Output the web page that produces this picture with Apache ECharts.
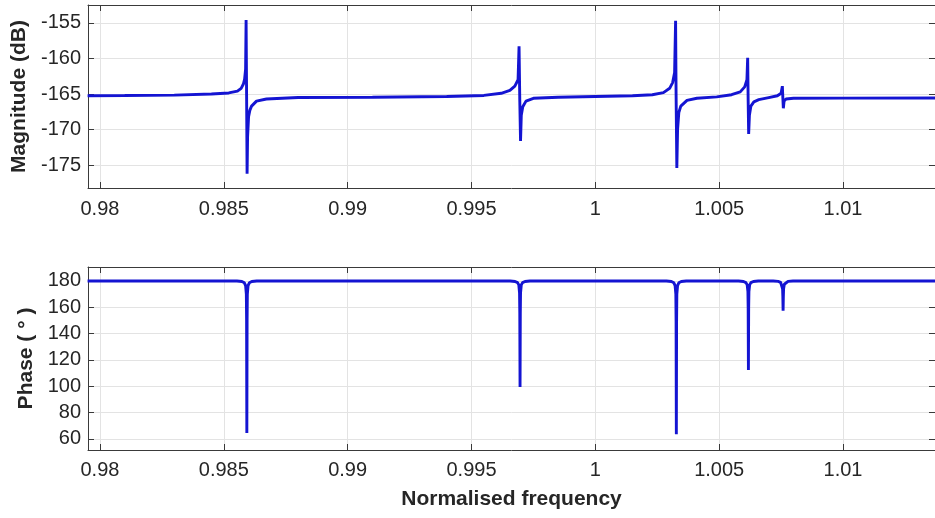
<!DOCTYPE html>
<html>
<head>
<meta charset="utf-8">
<script src="https://cdn.jsdelivr.net/npm/echarts@6/dist/echarts.min.js"></script>
<style>
html,body{margin:0;padding:0;background:#fff;}
#chart{width:935px;height:518px;}
</style>
</head>
<body>
<div id="chart"></div>
<script>
// ---- data ----
var freqTicks = [0.98, 0.985, 0.99, 0.995, 1, 1.005, 1.01];
var freqTickLabels = ['0.98', '0.985', '0.99', '0.995', '1', '1.005', '1.01'];
var magTicks = [-175, -170, -165, -160, -155];
var phaseTicks = [60, 80, 100, 120, 140, 160, 180];

var magnitude = [
  [0.97950, -165.25], [0.98100, -165.22], [0.98300, -165.15], [0.98450, -165.0],
  [0.98520, -164.85], [0.98555, -164.6], [0.98570, -164.2], [0.98579, -163.6],
  [0.98584, -162.9], [0.98588, -161.5], [0.98590, -154.6], [0.98592, -165.0],
  [0.98594, -176.2], [0.98596, -171.0], [0.98600, -168.2], [0.98605, -167.3],
  [0.98612, -166.7], [0.98632, -166.0], [0.98672, -165.7], [0.98800, -165.5],
  [0.99100, -165.45], [0.99400, -165.35], [0.99550, -165.2], [0.99620, -164.9],
  [0.99655, -164.5], [0.99675, -163.9], [0.99688, -163.0], [0.99692, -158.3],
  [0.99695, -166.0], [0.99698, -171.6], [0.99701, -168.0], [0.99707, -166.8],
  [0.99720, -166.0], [0.99750, -165.6], [0.99850, -165.45], [1.00000, -165.35],
  [1.00150, -165.25], [1.00230, -165.1], [1.00275, -164.8], [1.00300, -164.2],
  [1.00312, -163.4], [1.00320, -162.0], [1.00324, -154.7], [1.00326, -165.0],
  [1.00329, -175.4], [1.00332, -170.0], [1.00337, -167.6], [1.00345, -166.7],
  [1.00370, -165.9], [1.00410, -165.6], [1.00490, -165.4], [1.00550, -165.1],
  [1.00585, -164.7], [1.00603, -164.0], [1.00612, -163.0], [1.00615, -159.9],
  [1.00617, -166.0], [1.00619, -170.6], [1.00622, -168.0], [1.00628, -166.7],
  [1.00640, -166.1], [1.00660, -165.8], [1.00700, -165.5], [1.00735, -165.25],
  [1.00750, -164.9], [1.00755, -163.9], [1.00757, -165.5], [1.00759, -167.0],
  [1.00762, -166.0], [1.00770, -165.7], [1.00800, -165.6], [1.01000, -165.58],
  [1.01380, -165.55]
];

var phase = [
  [0.97950, 180],
  [0.98553, 180], [0.98573, 179.6], [0.98583, 178.6], [0.98588, 176.5], [0.98591, 170],
  [0.98592, 150], [0.98593, 64.5], [0.98594, 150], [0.98595, 170], [0.98598, 176.5],
  [0.98603, 178.6], [0.98613, 179.6], [0.98633, 180],
  [0.99656, 180], [0.99676, 179.6], [0.99686, 178.7], [0.99691, 177], [0.99694, 171],
  [0.99695, 155], [0.99696, 99.5], [0.99697, 155], [0.99698, 171], [0.99701, 177],
  [0.99706, 178.7], [0.99716, 179.6], [0.99736, 180],
  [1.00287, 180], [1.00307, 179.6], [1.00317, 178.6], [1.00322, 176.5], [1.00325, 170],
  [1.00326, 150], [1.00327, 63.5], [1.00328, 150], [1.00329, 170], [1.00332, 176.5],
  [1.00337, 178.6], [1.00347, 179.6], [1.00367, 180],
  [1.00578, 180], [1.00598, 179.6], [1.00608, 178.7], [1.00613, 177], [1.00616, 172],
  [1.00617, 160], [1.00618, 112.4], [1.00619, 160], [1.00620, 172], [1.00623, 177],
  [1.00628, 178.7], [1.00638, 179.6], [1.00658, 180],
  [1.00718, 180], [1.00738, 179.7], [1.00748, 179], [1.00753, 177.5], [1.00756, 174],
  [1.00757, 168], [1.00758, 157.4], [1.00759, 168], [1.00760, 174], [1.00763, 177.5],
  [1.00768, 179], [1.00778, 179.7], [1.00798, 180],
  [1.01380, 180]
];

// ---- style ----
var FONT = "'Liberation Sans', Arial, Helvetica, sans-serif";
var TXT = '#262626';
var BOX = '#3a3a3a';
var GRIDC = '#e3e3e3';
var LINEC = '#1414d2';
var X_MIN = 0.979517, X_MAX = 1.013713;

function xAxisMain(gi, margin, name) {
  var a = {
    type: 'value', gridIndex: gi, position: 'bottom', min: X_MIN, max: X_MAX,
    axisLine: {show: true, onZero: false, lineStyle: {color: BOX, width: 1}},
    axisTick: {show: true, inside: true, length: 6, customValues: freqTicks, lineStyle: {color: BOX}},
    axisLabel: {show: true, margin: margin, color: TXT, fontSize: 20, fontFamily: FONT,
      customValues: freqTicks,
      formatter: function (v) { var i = freqTicks.indexOf(v); return i >= 0 ? freqTickLabels[i] : ''; }},
    splitLine: {show: true, lineStyle: {color: GRIDC, width: 1}}
  };
  if (name) {
    a.name = name; a.nameLocation = 'middle'; a.nameGap = 39;
    a.nameTextStyle = {fontSize: 21, fontWeight: 'bold', color: TXT, fontFamily: FONT};
  }
  return a;
}
function xAxisTop(gi) {
  return {
    type: 'value', gridIndex: gi, position: 'top', min: X_MIN, max: X_MAX,
    axisLine: {show: true, onZero: false, lineStyle: {color: BOX, width: 1}},
    axisTick: {show: true, inside: true, length: 6, customValues: freqTicks, lineStyle: {color: BOX}},
    axisLabel: {show: false}, splitLine: {show: false}
  };
}
function yAxisMain(gi, mn, mx, ticks, name, gap) {
  return {
    type: 'value', gridIndex: gi, position: 'left', min: mn, max: mx,
    name: name, nameLocation: 'middle', nameGap: gap, nameRotate: 90,
    nameTextStyle: {fontSize: 21, fontWeight: 'bold', color: TXT, fontFamily: FONT},
    axisLine: {show: true, onZero: false, lineStyle: {color: BOX, width: 1}},
    axisTick: {show: true, inside: true, length: 6, customValues: ticks, lineStyle: {color: BOX}},
    axisLabel: {show: true, margin: 7, color: TXT, fontSize: 20, fontFamily: FONT, customValues: ticks},
    splitLine: {show: true, lineStyle: {color: GRIDC, width: 1}}
  };
}
function yAxisRight(gi, mn, mx, ticks) {
  return {
    type: 'value', gridIndex: gi, position: 'right', min: mn, max: mx,
    axisLine: {show: true, onZero: false, lineStyle: {color: BOX, width: 1}},
    axisTick: {show: true, inside: true, length: 6, customValues: ticks, lineStyle: {color: BOX}},
    axisLabel: {show: false}, splitLine: {show: false}
  };
}

var chart = echarts.init(document.getElementById('chart'), null, {renderer: 'canvas'});
chart.setOption({
  animation: false,
  backgroundColor: '#ffffff',
  grid: [
    {left: 88, right: -3, top: 5, height: 183, containLabel: false},
    {left: 88, right: -3, top: 267, height: 183, containLabel: false}
  ],
  xAxis: [
    xAxisMain(0, 11, null),
    xAxisMain(1, 10, 'Normalised frequency'),
    xAxisTop(0),
    xAxisTop(1)
  ],
  yAxis: [
    yAxisMain(0, -178.2, -152.5, magTicks, 'Magnitude (dB)', 49),
    yAxisMain(1, 51.6, 190.6, phaseTicks, 'Phase ( ° )', 50),
    yAxisRight(0, -178.2, -152.5, magTicks),
    yAxisRight(1, 51.6, 190.6, phaseTicks)
  ],
  series: [
    {type: 'line', xAxisIndex: 0, yAxisIndex: 0, data: magnitude, showSymbol: false, symbol: 'none',
      lineStyle: {color: LINEC, width: 2.9}, z: 5},
    {type: 'line', xAxisIndex: 1, yAxisIndex: 1, data: phase, showSymbol: false, symbol: 'none',
      lineStyle: {color: LINEC, width: 2.9}, z: 5}
  ]
});
</script>
</body>
</html>
